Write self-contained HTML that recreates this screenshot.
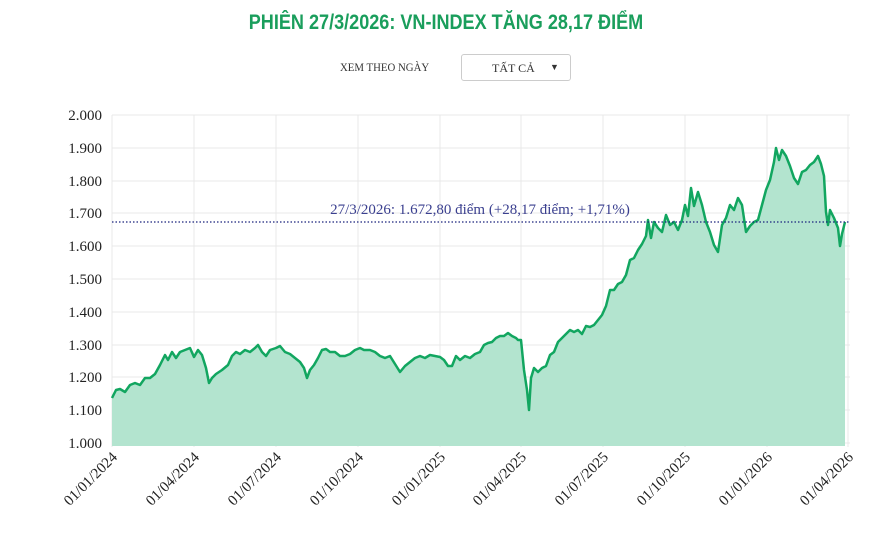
<!DOCTYPE html>
<html><head><meta charset="utf-8"><style>
body{margin:0;background:#fff;width:892px;height:539px;overflow:hidden;position:relative;font-family:"Liberation Serif",serif}
.t{position:absolute;left:0;width:892px;top:11px;text-align:center;color:#1a9e5c;font:bold 21px "Liberation Sans",sans-serif;transform:scaleX(0.86);}
.x{position:absolute;left:340px;top:60px;font-size:12px;color:#333;transform:scaleX(0.9);transform-origin:left}
.d{position:absolute;left:461px;top:54px;width:108px;height:25px;border:1px solid #ccc;border-radius:3px;font-size:12px;color:#333}
svg text{font-family:"Liberation Serif",serif}
</style></head><body>
<div class="t">PHIÊN 27/3/2026: VN-INDEX TĂNG 28,17 ĐIỂM</div>
<div class="x">XEM THEO NGÀY</div>
<div class="d"><span style="position:absolute;left:30px;top:6px">TẤT CẢ</span><span style="position:absolute;left:88px;top:7px;font-size:9px;line-height:10px">▼</span></div>
<svg width="892" height="539" style="position:absolute;left:0;top:0">
<g stroke="#e8e8e8" stroke-width="1">
<line x1="112" x2="850" y1="115" y2="115"/><line x1="112" x2="850" y1="148" y2="148"/><line x1="112" x2="850" y1="181" y2="181"/><line x1="112" x2="850" y1="213" y2="213"/><line x1="112" x2="850" y1="246" y2="246"/><line x1="112" x2="850" y1="279" y2="279"/><line x1="112" x2="850" y1="312" y2="312"/><line x1="112" x2="850" y1="345" y2="345"/><line x1="112" x2="850" y1="377" y2="377"/><line x1="112" x2="850" y1="410" y2="410"/><line x1="112" x2="850" y1="443" y2="443"/>
<line x1="112" x2="112" y1="115" y2="447"/><line x1="194" x2="194" y1="115" y2="447"/><line x1="276" x2="276" y1="115" y2="447"/><line x1="358" x2="358" y1="115" y2="447"/><line x1="440" x2="440" y1="115" y2="447"/><line x1="521" x2="521" y1="115" y2="447"/><line x1="603" x2="603" y1="115" y2="447"/><line x1="685" x2="685" y1="115" y2="447"/><line x1="767" x2="767" y1="115" y2="447"/><line x1="848" x2="848" y1="115" y2="447"/>
</g>
<g font-size="15" fill="#222" text-anchor="end">
<text x="102" y="120">2.000</text><text x="102" y="153">1.900</text><text x="102" y="186">1.800</text><text x="102" y="218">1.700</text><text x="102" y="251">1.600</text><text x="102" y="284">1.500</text><text x="102" y="317">1.400</text><text x="102" y="350">1.300</text><text x="102" y="382">1.200</text><text x="102" y="415">1.100</text><text x="102" y="448">1.000</text>
</g>
<g font-size="15" fill="#222" text-anchor="end">
<text transform="translate(118,458) rotate(-45)">01/01/2024</text><text transform="translate(200,458) rotate(-45)">01/04/2024</text><text transform="translate(282,458) rotate(-45)">01/07/2024</text><text transform="translate(364,458) rotate(-45)">01/10/2024</text><text transform="translate(446,458) rotate(-45)">01/01/2025</text><text transform="translate(527,458) rotate(-45)">01/04/2025</text><text transform="translate(609,458) rotate(-45)">01/07/2025</text><text transform="translate(691,458) rotate(-45)">01/10/2025</text><text transform="translate(773,458) rotate(-45)">01/01/2026</text><text transform="translate(854,458) rotate(-45)">01/04/2026</text>
</g>
<path fill="#b3e4cf" d="M112,446 L112,398 116,390 120,389 125,392 130,385 135,383 140,385 145,378 150,378 155,374 160,365 165,355 168,360 172,352 176,358 180,352 185,350 190,348 194,357 198,350 202,355 206,368 209,383 212,378 216,374 222,370 228,365 232,356 236,352 240,354 245,350 250,352 255,348 258,345 262,352 266,356 270,350 276,348 280,346 285,352 290,354 295,358 300,362 304,368 307,378 310,370 314,365 318,358 322,350 326,349 330,352 335,352 340,356 345,356 350,354 355,350 360,348 364,350 370,350 375,352 380,356 385,358 390,356 395,364 400,372 405,366 410,362 415,358 420,356 425,358 430,355 435,356 440,357 444,360 448,366 452,366 456,356 460,360 465,356 470,358 475,354 480,352 484,345 488,343 492,342 496,338 500,336 504,336 508,333 512,336 516,338 518,340 521,340 524,370 527,390 529,410 531,378 534,368 538,372 542,368 546,366 550,355 554,352 558,342 562,338 566,334 570,330 574,332 578,330 582,334 586,326 590,327 594,325 598,320 602,315 606,306 610,290 614,290 618,284 622,282 626,275 630,260 634,258 638,250 642,244 646,236 648,220 651,238 654,222 658,228 662,232 666,215 670,225 674,222 678,230 682,220 685,205 688,216 691,188 694,206 698,192 702,205 706,222 710,232 714,245 718,252 722,225 726,218 730,205 734,210 738,198 742,205 746,232 750,226 754,222 758,220 762,205 766,190 770,180 774,162 776,148 779,160 782,150 786,156 790,166 794,178 798,184 802,172 806,170 810,165 814,162 818,156 821,164 824,176 826,212 828,225 830,210 834,218 838,228 840,246 842,234 845,222 L845,446 Z"/>
<path fill="none" stroke="#12a660" stroke-width="2.5" stroke-linejoin="round" d="M112,398 116,390 120,389 125,392 130,385 135,383 140,385 145,378 150,378 155,374 160,365 165,355 168,360 172,352 176,358 180,352 185,350 190,348 194,357 198,350 202,355 206,368 209,383 212,378 216,374 222,370 228,365 232,356 236,352 240,354 245,350 250,352 255,348 258,345 262,352 266,356 270,350 276,348 280,346 285,352 290,354 295,358 300,362 304,368 307,378 310,370 314,365 318,358 322,350 326,349 330,352 335,352 340,356 345,356 350,354 355,350 360,348 364,350 370,350 375,352 380,356 385,358 390,356 395,364 400,372 405,366 410,362 415,358 420,356 425,358 430,355 435,356 440,357 444,360 448,366 452,366 456,356 460,360 465,356 470,358 475,354 480,352 484,345 488,343 492,342 496,338 500,336 504,336 508,333 512,336 516,338 518,340 521,340 524,370 527,390 529,410 531,378 534,368 538,372 542,368 546,366 550,355 554,352 558,342 562,338 566,334 570,330 574,332 578,330 582,334 586,326 590,327 594,325 598,320 602,315 606,306 610,290 614,290 618,284 622,282 626,275 630,260 634,258 638,250 642,244 646,236 648,220 651,238 654,222 658,228 662,232 666,215 670,225 674,222 678,230 682,220 685,205 688,216 691,188 694,206 698,192 702,205 706,222 710,232 714,245 718,252 722,225 726,218 730,205 734,210 738,198 742,205 746,232 750,226 754,222 758,220 762,205 766,190 770,180 774,162 776,148 779,160 782,150 786,156 790,166 794,178 798,184 802,172 806,170 810,165 814,162 818,156 821,164 824,176 826,212 828,225 830,210 834,218 838,228 840,246 842,234 845,222"/>
<line x1="112" x2="850" y1="222" y2="222" stroke="#1a237e" stroke-width="1.2" stroke-dasharray="1.5,2"/>
<text x="480" y="214" text-anchor="middle" font-size="15" fill="#3a3f8f">27/3/2026: 1.672,80 điểm (+28,17 điểm; +1,71%)</text>
</svg>
</body></html>
